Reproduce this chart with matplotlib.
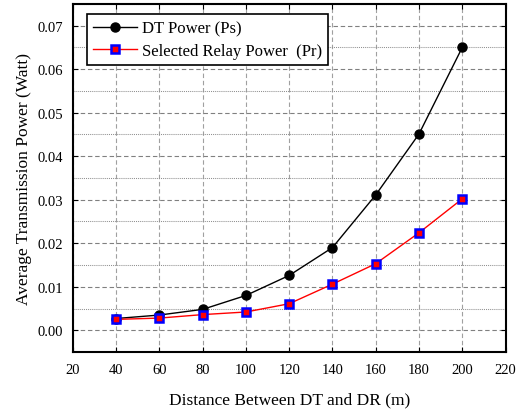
import matplotlib
matplotlib.use("Agg")
import matplotlib.pyplot as plt
from matplotlib.ticker import MultipleLocator

distance = [40, 60, 80, 100, 120, 140, 160, 180, 200]
dt_power = [0.0027, 0.0035, 0.0048, 0.0080, 0.0126, 0.0190, 0.0311, 0.0451, 0.0650]
relay_power = [0.0025, 0.0028, 0.0036, 0.0042, 0.0061, 0.0106, 0.0153, 0.0224, 0.0302]

plt.rcParams['font.family'] = ['Liberation Serif', 'DejaVu Serif']

fig = plt.figure(figsize=(5.24, 4.14), dpi=100)
ax = fig.add_axes([0.139, 0.1473, 0.8257, 0.8407])

ax.plot(distance, dt_power, color='black', lw=1.0, marker='o', markersize=6.5,
        markerfacecolor='black', markeredgecolor='black', label='DT Power (Ps)')
ax.plot(distance, relay_power, color='red', lw=1.0, marker='s', markersize=5.2,
        markerfacecolor='red', markeredgecolor='blue', markeredgewidth=1.8,
        label='Selected Relay Power  (Pr)')

ax.set_xlim(20, 220)
ax.set_ylim(-0.005, 0.075)
ax.xaxis.set_major_locator(MultipleLocator(20))
ax.yaxis.set_minor_locator(MultipleLocator(0.005))
ax.set_yticks([0, 0.01, 0.02, 0.03, 0.04, 0.05, 0.06, 0.07])
ax.set_yticklabels(['0.00', '0.01', '0.02', '0.03', '0.04', '0.05', '0.06', '0.07'])

ax.grid(which='major', axis='x', linestyle=(0, (4, 2.5)), color='#a0a0a0', lw=0.8)
ax.grid(which='major', axis='y', linestyle=(0, (4, 2.5)), color='#808080', lw=0.8)
ax.grid(which='minor', axis='y', linestyle=(0, (1, 1)), color='#909090', lw=0.75)
ax.set_axisbelow(True)

ax.tick_params(which='both', direction='in', top=True, right=True, labelsize=10.5)
ax.tick_params(which='minor', length=0)
ax.tick_params(axis='x', pad=8)
ax.tick_params(axis='y', pad=7)
for s in ax.spines.values():
    s.set_linewidth(1.5)

ax.set_xlabel('Distance Between DT and DR (m)', fontsize=12.5, labelpad=11)
ax.set_ylabel('Average Transmission Power (Watt)', fontsize=12.5, labelpad=4)

leg = ax.legend(loc='upper left', bbox_to_anchor=(0.032, 0.971), borderaxespad=0,
                fontsize=12.0, frameon=True, fancybox=False,
                edgecolor='black', framealpha=1,
                handlelength=2.6, handletextpad=0.3, borderpad=0.4, labelspacing=0.35)
leg.get_frame().set_linewidth(1.2)

fig.savefig('out.png', dpi=100)
